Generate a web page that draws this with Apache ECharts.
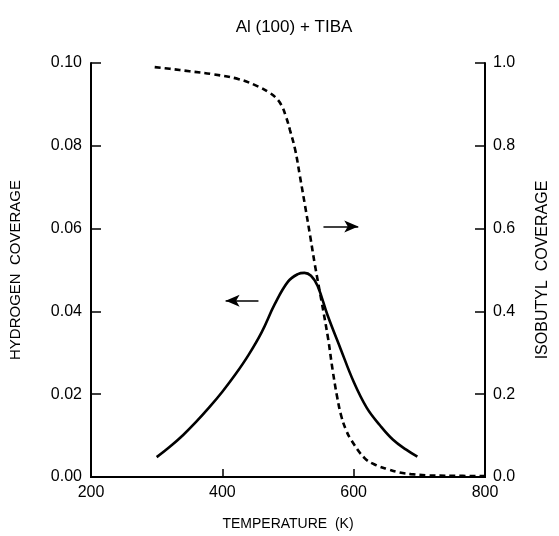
<!DOCTYPE html>
<html>
<head>
<meta charset="utf-8">
<script src="https://cdn.jsdelivr.net/npm/echarts@6/dist/echarts.min.js"></script>
<style>html,body{margin:0;padding:0;background:#fff}#c{width:559px;height:536px}</style>
</head>
<body>
<div id="c"></div>
<script>
var titleText = 'Al (100) + TIBA';
var xTicks = [200, 400, 600, 800];
var hydrogenT = [300, 320, 340, 360, 380, 400, 420, 440, 460, 480, 500, 515, 525, 535, 545, 560, 580, 600, 620, 640, 660, 680, 697];
var hydrogenCov = [0.0048, 0.0073, 0.0101, 0.0133, 0.0168, 0.0206, 0.0248, 0.0295, 0.0350, 0.0418, 0.0472, 0.0490, 0.0493, 0.0486, 0.0462, 0.0392, 0.0310, 0.0230, 0.0167, 0.0125, 0.0090, 0.0066, 0.0049];
var isobutylT = [297, 320, 350, 385, 425, 455, 470, 481, 490, 497, 503, 511, 518, 526, 534, 541, 551, 561, 568, 575, 581, 588, 596, 617, 635, 652, 670, 687, 712, 750, 800];
var isobutylCov = [0.990, 0.986, 0.980, 0.973, 0.961, 0.943, 0.930, 0.917, 0.898, 0.870, 0.838, 0.790, 0.728, 0.655, 0.580, 0.512, 0.425, 0.335, 0.258, 0.192, 0.148, 0.115, 0.090, 0.045, 0.028, 0.019, 0.011, 0.007, 0.004, 0.003, 0.002];
var leftArrow = [[455, 0.0426], [405, 0.0426]];
var rightArrow = [[554, 0.605], [607, 0.605]];

function pairs(xs, ys){ return xs.map(function(x,i){ return [x, ys[i]]; }); }
var font = '"Liberation Sans", Arial, Helvetica, sans-serif';
var chart = echarts.init(document.getElementById('c'));
chart.setOption({
  animation: false,
  backgroundColor: '#fff',
  title: { text: titleText, left: 289, textAlign: 'center', top: 14, textStyle: { fontFamily: font, fontSize: 17, fontWeight: 'normal', color: '#000' } },
  grid: { left: 91, right: 71, top: 63, bottom: 59, show: false },
  xAxis: [{
    type: 'value', min: 200, max: 800, interval: 200, position: 'bottom',
    name: 'TEMPERATURE  (K)', nameLocation: 'middle', nameGap: 40,
    nameTextStyle: { fontFamily: font, fontSize: 14, color: '#000' },
    axisLine: { lineStyle: { color: '#000', width: 2 } },
    axisTick: { inside: true, length: 8, lineStyle: { color: '#000', width: 1.5 } },
    axisLabel: { fontFamily: font, fontSize: 16, color: '#000', margin: 8 },
    splitLine: { show: false }
  }, {
    type: 'value', min: 200, max: 800, position: 'top',
    axisLine: { show: true, lineStyle: { color: '#000', width: 2 } },
    axisTick: { show: false }, axisLabel: { show: false }, splitLine: { show: false }
  }],
  yAxis: [{
    type: 'value', min: 0, max: 0.1, interval: 0.02, position: 'left',
    name: 'HYDROGEN  COVERAGE', nameLocation: 'middle', nameGap: 68, nameRotate: 90,
    nameTextStyle: { fontFamily: font, fontSize: 15, color: '#000' },
    axisLine: { show: true, lineStyle: { color: '#000', width: 2 } },
    axisTick: { inside: true, length: 10, lineStyle: { color: '#000', width: 1.5 } },
    axisLabel: { fontFamily: font, fontSize: 16, color: '#000', margin: 9, formatter: function(v){ return v.toFixed(2); } },
    splitLine: { show: false }
  }, {
    type: 'value', min: 0, max: 1, interval: 0.2, position: 'right',
    name: 'ISOBUTYL  COVERAGE', nameLocation: 'middle', nameGap: 50, nameRotate: 90,
    nameTextStyle: { fontFamily: font, fontSize: 16, color: '#000' },
    axisLine: { show: true, lineStyle: { color: '#000', width: 2 } },
    axisTick: { inside: true, length: 10, lineStyle: { color: '#000', width: 1.5 } },
    axisLabel: { fontFamily: font, fontSize: 16, color: '#000', margin: 8, formatter: function(v){ return v.toFixed(1); } },
    splitLine: { show: false }
  }],
  series: [{
    type: 'line', xAxisIndex: 0, yAxisIndex: 0, data: pairs(hydrogenT, hydrogenCov),
    smooth: 0.4, showSymbol: false, lineStyle: { color: '#000', width: 2.6 },
    markLine: { silent: true, symbol: ['none', 'arrow'], symbolSize: [9, 14], label: { show: false },
      lineStyle: { color: '#000', width: 1.5, type: 'solid' },
      data: [[{ coord: leftArrow[0] }, { coord: leftArrow[1] }]] }
  }, {
    type: 'line', xAxisIndex: 0, yAxisIndex: 1, data: pairs(isobutylT, isobutylCov),
    smooth: 0.4, showSymbol: false, lineStyle: { color: '#000', width: 2.6, type: [6, 4] },
    markLine: { silent: true, symbol: ['none', 'arrow'], symbolSize: [9, 14], label: { show: false },
      lineStyle: { color: '#000', width: 1.5, type: 'solid' },
      data: [[{ coord: rightArrow[0] }, { coord: rightArrow[1] }]] }
  }]
});
</script>
</body>
</html>
